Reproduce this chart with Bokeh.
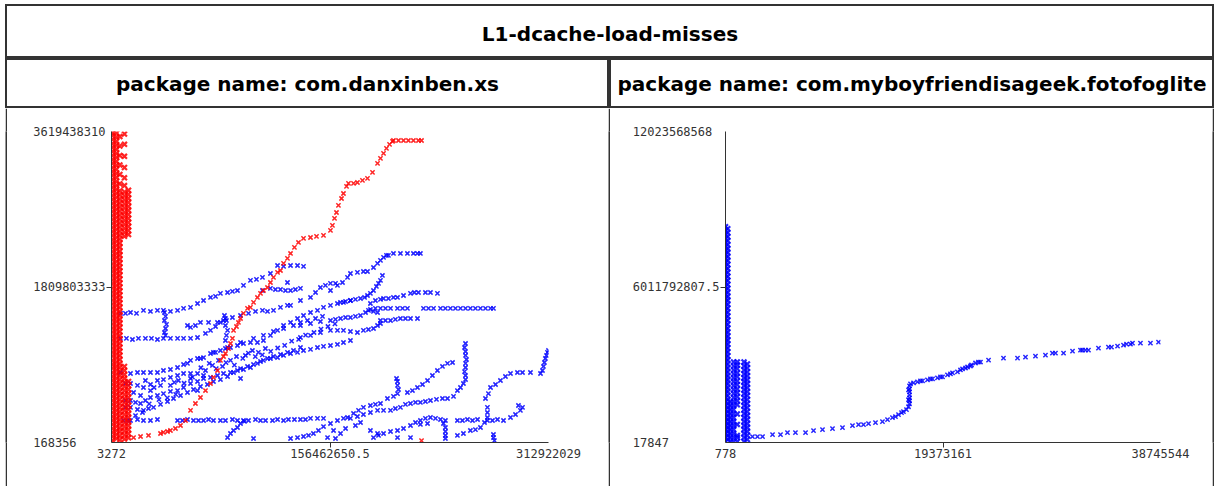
from bokeh.plotting import figure
from bokeh.layouts import row, column, Spacer
from bokeh.models import Range1d, FixedTicker, Label, ColumnDataSource
from bokeh.embed import file_html
from bokeh.resources import INLINE

TITLE = "L1-dcache-load-misses"
PKG_LEFT = "package name: com.danxinben.xs"
PKG_RIGHT = "package name: com.myboyfriendisageek.fotofoglite"

# ---------------- axis extents / ticks ----------------
left_x_ticks = [3272, 156462650.5, 312922029]
left_x_labels = ["3272", "156462650.5", "312922029"]
left_y_ticks = [168356, 1809803333, 3619438310]
left_y_labels = ["168356", "1809803333", "3619438310"]

right_x_ticks = [778, 19373161, 38745544]
right_x_labels = ["778", "19373161", "38745544"]
right_y_ticks = [17847, 6011792807.5, 12023568568]
right_y_labels = ["17847", "6011792807.5", "12023568568"]

# ---------------- left panel data (values in millions) ----------------
left_red_col_x = [0.7, 3.6, 6.0, 9.3, 12.2]
left_red_col_y = [
    [24, 71, 118, 164, 212, 258, 304, 352, 398, 446, 492, 538, 586, 632, 679, 726, 772, 818, 866, 912,
     958, 1006, 1052, 1099, 1146, 1192, 1238, 1286, 1332, 1379, 1426, 1472, 1518, 1566, 1612, 1659,
     1706, 1752, 1798, 1846, 1892, 1939, 1986, 2032, 2078, 2126, 2172, 2219, 2266, 2312, 2358, 2406,
     2452, 2499, 2546, 2592, 2638, 2686, 2732, 2779, 2826, 2872, 2918, 2966, 3012, 3059, 3106, 3152,
     3198, 3246, 3292, 3339, 3386, 3432, 3478, 3526, 3572, 3604],
    [47, 94, 141, 188, 235, 281, 328, 375, 422, 469, 515, 562, 609, 656, 702, 749, 796, 843, 889, 936,
     983, 1030, 1076, 1123, 1170, 1217, 1263, 1310, 1357, 1404, 1450, 1497, 1544, 1591, 1637, 1684,
     1731, 1778, 1824, 1871, 1918, 1965, 2011, 2058, 2105, 2152, 2198, 2245, 2292, 2339, 2385, 2432,
     2479, 2526, 2572, 2619, 2666, 2713, 2759, 2806, 2853, 2900, 2946, 2993, 3040, 3087, 3133, 3180,
     3227, 3274, 3320, 3367, 3414, 3461, 3507, 3554, 3601],
    [30, 77, 124, 170, 217, 264, 311, 357, 404, 451, 498, 544, 591, 638, 685, 731, 778, 825, 872, 918,
     965, 1012, 1059, 1105, 1152, 1199, 1246, 1292, 1339, 1386, 1433, 1479, 1526, 1573, 1620, 1666,
     1713, 1760, 1807, 1853, 1900, 1947, 1994, 2040, 2087, 2134, 2181, 2227, 2274, 2321, 2368, 2414,
     2461, 2508, 2555, 2601, 2648, 2695, 2742, 2788, 2835, 2882, 2929, 3010, 3120, 3230, 3340, 3450,
     3560],
    [40, 88, 135, 182, 229, 276, 322, 369, 416, 463, 510, 556, 603, 650, 697, 744, 790, 837, 884,
     2400, 2447, 2494, 2541, 2588, 2634, 2681, 2728, 2775, 2822, 2868, 2915, 2990, 3080, 3200, 3330,
     3470, 3590],
    [55, 102, 149, 196, 243, 290, 336, 383, 430, 477, 524, 571, 617, 664, 711,
     2420, 2467, 2514, 2561, 2607, 2654, 2701, 2748, 2795, 2842, 2889, 2936],
]

left_red_diag = [
    (15.8, 58), (20.8, 70), (26.5, 82), (35.1, 105), (37.2, 117), (40.1, 128), (42.2, 140), (45.8, 163),
    (49.4, 198), (53.0, 256), (56.6, 373), (60.1, 454), (63.7, 524), (67.3, 605), (70.9, 687),
    (73.0, 757), (75.9, 838), (78.0, 955), (80.2, 1001), (81.6, 1036), (83.8, 1094), (85.2, 1152),
    (86.6, 1211), (87.4, 1304), (89.5, 1350), (90.9, 1397), (92.4, 1443), (94.5, 1502), (97.4, 1560),
    (99.5, 1572), (101.7, 1630), (104.5, 1688), (106.7, 1735), (108.8, 1769), (111.7, 1804),
    (113.8, 1862), (116.0, 1921), (118.9, 1979), (121.0, 2002), (123.2, 2084), (126.0, 2142),
    (128.2, 2200), (131.0, 2270), (133.9, 2328), (137.5, 2375), (142.5, 2386), (146.8, 2398),
    (151.8, 2410), (156.8, 2468), (158.2, 2526), (159.7, 2608), (161.1, 2677), (162.5, 2759),
    (164.7, 2840), (166.1, 2898), (168.3, 2980), (169.7, 3015), (173.3, 3015), (176.1, 3026),
    (179.7, 3050), (183.3, 3073), (186.9, 3143), (190.5, 3248), (192.6, 3306), (194.8, 3364),
    (196.9, 3422), (199.1, 3469), (201.2, 3504), (201.9, 3515), (205.5, 3515), (209.1, 3515),
    (212.6, 3515), (216.2, 3515), (219.8, 3515), (222.0, 3515), (222.0, 23),
]

left_blue_top = [
    (6.4, 1502), (10.0, 1502), (13.6, 1513), (17.9, 1502), (22.9, 1537), (27.9, 1525), (32.9, 1537),
    (37.2, 1537), (42.2, 1525), (47.3, 1537), (51.6, 1560), (56.6, 1572), (61.6, 1618), (65.9, 1653),
    (70.9, 1688), (74.5, 1700), (78.0, 1735), (83.1, 1746), (86.6, 1758), (90.2, 1769), (94.5, 1828),
    (99.5, 1886), (103.8, 1898), (108.1, 1921), (113.8, 1967), (118.9, 2060), (123.2, 2049),
    (128.2, 2060), (133.2, 2060), (137.5, 2049),
    (156.8, 1769), (161.8, 1828), (165.4, 1862), (169.0, 1921), (171.1, 1967), (176.1, 1979),
    (180.4, 1990), (183.3, 1990), (187.6, 2037), (190.5, 2084), (192.6, 2119), (194.8, 2154),
    (196.9, 2177), (198.3, 2177), (201.9, 2200), (206.9, 2200), (211.9, 2200), (216.2, 2200),
    (219.1, 2200), (221.2, 2200),
    (128.2, 1595), (135.3, 1653), (142.5, 1688), (146.1, 1746), (149.6, 1804), (153.2, 1828),
    (156.8, 1851), (160.4, 1851),
    (108.1, 1769), (113.8, 1793), (117.4, 1781), (121.0, 1781), (124.6, 1769), (128.2, 1769),
    (131.7, 1781), (135.3, 1793), (126.0, 1862),
]

left_blue_mid = [
    (6.4, 1211), (10.7, 1211), (15.0, 1199), (19.3, 1211), (24.3, 1211), (28.6, 1211), (32.9, 1199),
    (37.2, 1211), (42.2, 1211), (47.3, 1211), (51.6, 1211), (56.6, 1211), (61.6, 1222),
    (67.3, 1269), (70.9, 1304), (74.5, 1350), (78.0, 1397), (81.6, 1443), (86.6, 1455), (92.4, 1478),
    (98.1, 1502), (103.1, 1525), (108.1, 1537), (111.7, 1525), (116.0, 1537), (121.0, 1572),
    (126.0, 1595),
    (37.9, 1513), (38.7, 1467), (37.9, 1420), (39.4, 1374), (38.7, 1327), (37.9, 1280), (38.7, 1246),
    (54.4, 1362), (56.6, 1339), (60.1, 1362), (63.7, 1397), (69.5, 1397), (75.9, 1397), (80.2, 1420),
    (80.9, 1478), (82.3, 1420), (81.6, 1362), (83.1, 1304), (82.3, 1246), (81.6, 1187),
    (54.4, 920), (63.7, 978), (73.0, 1048), (83.1, 1106), (92.4, 1164), (101.7, 1211), (108.8, 1246),
    (116.0, 1292), (123.2, 1327), (130.3, 1362), (135.3, 1397), (140.3, 1420), (146.1, 1443),
    (151.1, 1467),
]

left_blue_bundle = [
    (6.4, 815), (13.6, 803), (18.6, 815), (22.9, 815), (27.9, 815), (32.9, 815), (37.2, 838),
    (42.2, 850), (47.3, 873), (51.6, 908), (56.6, 955), (61.6, 978), (65.9, 989), (70.9, 1036),
    (74.5, 1048), (78.0, 1071), (81.6, 1094), (85.2, 1106), (90.2, 1129), (94.5, 1152), (99.5, 1164),
    (104.5, 1164), (108.8, 1187), (113.8, 1246), (118.9, 1304), (123.2, 1362), (128.2, 1397),
    (133.2, 1443), (137.5, 1478), (142.5, 1513), (147.5, 1537), (151.8, 1572), (156.8, 1595),
    (161.8, 1618), (166.1, 1630), (171.1, 1653),
    (10.0, 687), (13.6, 687), (18.6, 664), (22.9, 640), (27.9, 675), (32.9, 722), (37.2, 733),
    (42.2, 757), (47.3, 780), (51.6, 803), (56.6, 803), (61.6, 803), (65.9, 780), (70.9, 757),
    (75.9, 780), (80.2, 803), (85.2, 815), (90.2, 838), (94.5, 850), (99.5, 873), (104.5, 920),
    (108.8, 955), (113.8, 978), (118.9, 989), (123.2, 1013), (128.2, 1036), (133.2, 1048),
    (137.5, 1071), (142.5, 1083), (147.5, 1106), (151.8, 1118), (156.8, 1129), (161.8, 1141),
    (166.1, 1164), (171.1, 1187),
    (10.0, 489), (13.6, 489), (17.2, 466), (20.8, 454), (24.3, 489), (27.9, 524), (32.9, 547),
    (37.2, 570), (42.2, 594), (47.3, 605), (51.6, 640), (56.6, 687), (61.6, 710), (65.9, 745),
    (10.0, 408), (13.6, 408), (18.6, 384), (22.9, 373), (26.5, 396), (30.1, 408), (35.1, 443),
    (40.1, 477), (44.4, 512), (49.4, 547), (54.4, 582), (58.7, 617), (63.7, 652), (68.7, 675),
    (73.0, 710), (78.0, 733), (83.1, 768), (87.4, 815), (92.4, 861), (97.4, 885), (101.7, 908),
    (106.7, 943), (111.7, 978), (116.0, 1001), (121.0, 1024), (126.0, 1048), (130.3, 1071),
    (135.3, 1106),
    (56.6, 745), (61.6, 605), (67.3, 838), (72.3, 897), (76.6, 955), (79.5, 885), (85.2, 955),
    (89.5, 1001), (95.9, 1013), (100.9, 1071), (105.2, 1048), (110.2, 1094), (92.4, 745), (27.9, 605),
    (35.1, 664), (20.8, 547), (15.8, 582), (24.3, 722), (42.2, 664), (47.9, 722), (17.2, 314),
    (22.2, 349), (12.2, 256),
    (30.5, 640), (45.0, 700), (52.0, 690), (58.0, 760), (64.0, 870), (70.0, 920), (75.0, 860),
    (82.0, 930), (88.0, 900), (94.0, 980), (98.0, 1040), (103.0, 1000), (108.0, 1020), (114.0, 1060),
    (119.0, 1100), (124.0, 1130), (129.0, 1180), (134.0, 1200), (139.0, 1250), (145.0, 1280),
    (150.0, 1320), (155.0, 1350), (160.0, 1380), (40.0, 520), (46.0, 560), (34.0, 500), (27.0, 450),
]

left_blue_flat = [
    (8.6, 256), (13.6, 256), (18.6, 268), (22.9, 256), (27.9, 256), (32.9, 268), (47.3, 256),
    (50.8, 256), (54.4, 268), (58.7, 256), (62.3, 256), (65.9, 256), (69.5, 268), (73.0, 256),
    (78.0, 256), (81.6, 256), (86.6, 268), (90.2, 256), (94.5, 256), (98.1, 256), (103.1, 268),
    (106.7, 256), (110.3, 256), (115.3, 256), (118.9, 268), (123.2, 256), (126.7, 268), (131.0, 268),
    (135.3, 268), (138.9, 268), (142.5, 280), (147.5, 280), (151.8, 280),
    (83.1, 58), (85.2, 105), (87.4, 140), (90.2, 175), (92.4, 221), (95.2, 245), (101.7, 47),
]

left_blue_low_right = [
    (128.2, 47), (133.2, 58), (137.5, 70), (141.1, 82), (144.6, 105), (148.2, 140), (151.8, 186),
    (156.8, 221), (161.8, 256), (166.1, 280), (169.0, 291), (173.3, 338), (176.9, 373), (180.4, 408),
    (185.4, 431), (189.0, 443), (192.6, 454), (197.6, 512), (201.9, 536), (204.8, 570), (205.5, 617),
    (204.8, 664), (204.8, 710), (204.1, 745),
    (211.9, 582), (215.5, 605), (219.1, 640), (222.7, 675), (226.3, 722), (229.8, 780), (233.4, 838),
    (237.0, 885), (240.6, 920), (244.2, 931),
    (171.1, 280), (176.1, 303), (180.4, 326), (185.4, 349), (190.5, 373), (194.8, 373), (199.8, 373),
    (203.3, 396), (206.9, 408), (210.5, 443), (214.1, 454), (217.7, 466), (221.2, 466), (224.8, 477),
    (228.4, 489), (232.7, 501), (237.0, 512), (240.6, 512), (244.9, 536), (247.7, 605), (249.9, 640),
    (252.0, 687), (253.5, 733), (253.5, 780), (252.8, 826), (253.5, 873), (253.5, 920), (254.2, 966),
    (253.5, 1013), (253.5, 1059), (252.8, 1106), (253.5, 1152),
    (187.6, 58), (191.2, 82), (194.8, 105), (199.8, 128), (204.8, 140), (209.1, 163), (214.1, 198),
    (217.7, 233), (221.2, 256), (224.8, 280), (228.4, 291), (232.0, 280), (235.6, 268), (239.1, 256),
    (237.7, 221), (226.3, 221), (221.2, 210), (247.7, 256), (251.3, 256), (254.9, 268), (258.5, 256),
    (262.1, 268), (269.2, 256), (272.8, 256), (276.4, 268), (280.7, 256), (285.7, 291), (289.3, 326),
    (292.8, 373), (294.3, 408), (291.4, 431),
    (247.7, 82), (252.0, 105), (257.0, 140), (260.6, 151), (264.2, 175), (267.1, 233), (269.2, 291),
    (269.2, 349), (269.2, 408), (267.8, 512), (269.9, 570), (271.4, 640), (275.0, 675), (278.5, 722),
    (282.1, 768), (285.7, 803), (290.7, 815), (294.3, 815), (300.0, 815),
    (307.2, 803), (308.6, 838), (309.3, 885), (310.0, 931), (310.7, 978), (311.5, 1013),
    (312.2, 1048), (312.9, 1071),
    (273.5, 93), (273.5, 58), (274.2, 23), (239.1, 175), (239.1, 128), (239.1, 82), (239.1, 47),
    (214.1, 58), (204.8, 58), (159.0, 140), (164.0, 105), (167.6, 163), (174.7, 198), (154.7, 58),
    (160.4, 47), (178.3, 233), (185.4, 140), (190.5, 105),
]

left_blue_high_right = [
    (135.3, 1362), (142.5, 1385), (149.6, 1408), (156.8, 1420), (160.4, 1432), (164.0, 1443),
    (167.6, 1455), (171.1, 1455), (174.7, 1467), (178.3, 1478), (181.9, 1513), (184.0, 1537),
    (187.6, 1525), (190.5, 1513), (192.6, 1420), (196.2, 1420), (199.8, 1420), (203.3, 1432),
    (206.9, 1443), (210.5, 1443), (214.1, 1443), (219.1, 1443),
    (135.3, 1222), (142.5, 1246), (149.6, 1280), (156.8, 1304), (161.8, 1304), (166.1, 1304),
    (171.1, 1292), (176.1, 1280), (180.4, 1304), (184.0, 1315), (187.6, 1327), (190.5, 1362),
    (192.6, 1385),
    (185.4, 1618), (189.0, 1653), (192.6, 1665), (194.8, 1676), (198.3, 1676), (201.9, 1688),
    (204.8, 1688), (209.1, 1711), (214.1, 1735), (216.9, 1746), (219.8, 1746), (224.8, 1746),
    (228.4, 1746), (233.4, 1735),
    (185.4, 1548), (189.0, 1560), (192.6, 1560), (196.2, 1560), (199.8, 1560), (204.8, 1560),
    (208.4, 1560), (211.9, 1560), (223.4, 1560), (227.0, 1560), (230.6, 1560), (235.6, 1560),
    (239.1, 1560), (242.7, 1560), (246.3, 1560), (249.9, 1560), (253.5, 1560), (257.0, 1560),
    (260.6, 1560), (264.2, 1560), (267.8, 1560), (271.4, 1560), (273.5, 1560),
    (164.0, 1630), (167.6, 1641), (171.1, 1653), (174.7, 1665), (178.3, 1676), (181.2, 1688),
    (183.3, 1711), (185.4, 1735), (187.6, 1769), (189.7, 1816), (191.2, 1851), (192.6, 1886),
    (194.0, 1944),
]

# ---------------- right panel data (values in millions) ----------------
right_col_x = [0.001, 0.2, 0.45, 0.72, 1.05, 1.65, 1.95]
right_col_y = [
    [38, 190, 345, 498, 652, 806, 960, 1114, 1268, 1421, 1575, 1729, 1883, 2036, 2190, 2344, 2498,
     2651, 2805, 2959, 3113, 3266, 3420, 3574, 3728, 3881, 4035, 4189, 4343, 4496, 4650, 4804, 4958,
     5111, 5265, 5419, 5573, 5726, 5880, 6034, 6188, 6341, 6495, 6649, 6803, 6956, 7110, 7264, 7418,
     7571, 7725, 7879, 8033, 8186, 8340],
    [115, 268, 422, 575, 729, 883, 1037, 1190, 1344, 1498, 1652, 1805, 1959, 2113, 2267, 2420, 2574,
     2728, 2882, 3036, 3189, 3343, 3497, 3651, 3804, 3958, 4112, 4266, 4419, 4573, 4727, 4881, 5034,
     5188, 5342, 5496, 5649, 5803, 5957, 6111, 6265, 6418, 6572, 6726, 6880, 7033, 7187, 7341, 7495,
     7648, 7802, 7956, 8110, 8263],
    [40, 190, 340, 495, 650, 800, 955, 1110, 1265, 1420, 1575],
    [38, 190, 345, 498, 652, 806, 960, 1114, 1268, 1421, 1575, 1729, 1883, 2036, 2190, 2344, 2498,
     2651, 2805, 2959, 3111],
    [38, 192, 268, 700, 1100, 1460, 1610, 1770, 1920, 2070, 2230, 2380, 2540, 2690, 2850, 3000, 3111],
    [38, 190, 345, 498, 652, 806, 960, 1114, 1268, 1421, 1575, 1729, 1883, 2036, 2190, 2344, 2498,
     2651, 2805, 2959, 3111],
    [115, 268, 422, 575, 729, 883, 1037, 1190, 1344, 1498, 1652, 1805, 1959, 2113, 2267, 2420, 2574,
     2728, 2882, 3036],
]

right_curve = [
    (2.40, 230), (2.85, 230), (3.30, 230), (4.19, 307), (4.90, 307), (5.52, 384), (6.23, 384),
    (7.13, 384), (7.84, 461), (8.64, 499), (9.53, 538), (10.42, 576), (11.31, 653), (11.85, 691),
    (12.29, 691), (12.74, 730), (13.36, 768), (13.98, 807), (14.43, 884), (14.87, 960), (15.14, 999),
    (15.41, 1076), (15.68, 1152), (15.85, 1191), (16.12, 1268), (16.30, 1383),
    (16.39, 1498), (16.39, 1613), (16.39, 1729), (16.39, 1844), (16.39, 1959), (16.39, 2074),
    (16.39, 2190), (16.48, 2266), (16.30, 1652), (16.30, 2036),
    (16.75, 2305), (17.10, 2343), (17.37, 2382), (17.55, 2382), (17.99, 2420), (18.26, 2459),
    (18.44, 2459), (18.88, 2497), (19.15, 2535), (19.33, 2535), (19.77, 2612), (20.04, 2651),
    (20.22, 2689), (20.66, 2727), (20.93, 2804), (21.11, 2843), (21.38, 2881), (21.56, 2919),
    (21.82, 2958), (21.91, 2996), (22.27, 3073), (22.53, 3111), (22.71, 3111),
    (23.43, 3188), (24.76, 3265), (26.01, 3265), (26.72, 3304), (27.61, 3342), (28.50, 3380),
    (29.12, 3457), (29.39, 3457), (30.11, 3457), (30.91, 3534), (31.62, 3573), (31.80, 3573),
    (32.06, 3573), (32.33, 3573), (33.22, 3649), (34.11, 3688), (34.38, 3688), (34.92, 3726),
    (35.45, 3765), (35.72, 3803), (36.07, 3803), (36.25, 3841), (36.96, 3841), (37.85, 3841),
    (38.57, 3880),
]

M = 1e6
BLUE = "#0000ff"
RED = "#ff0000"
LINE = "#333333"
TICK_FONT = "DejaVu Sans Mono"


def pts_source(pairs):
    return ColumnDataSource(dict(x=[a * M for a, _ in pairs], y=[b * M for _, b in pairs]))


def cols_source(xs, ys):
    px, py = [], []
    for xv, col in zip(xs, ys):
        for yv in col:
            px.append(xv * M)
            py.append(yv * M)
    return ColumnDataSource(dict(x=px, y=py))


def pad(labels):
    n = max(len(s) for s in labels)
    return [s + "\u00a0" * (n - len(s)) for s in labels]


def cell(w, h, text, ypos):
    p = figure(width=w, height=h, x_range=Range1d(0, 1), y_range=Range1d(0, 1),
               output_backend="svg", toolbar_location=None, x_axis_type=None, y_axis_type=None,
               min_border=0)
    p.outline_line_color = LINE
    p.outline_line_width = 3
    p.background_fill_color = "white"
    p.border_fill_color = "white"
    p.add_layout(Label(x=0.5, y=ypos, text=text, text_align="center", text_baseline="middle",
                       text_font="DejaVu Sans", text_font_style="bold", text_font_size="20px",
                       text_color="#000000"))
    return p


def sep(h):
    p = figure(width=2, height=h, x_range=Range1d(0, 1), y_range=Range1d(0, 1),
               output_backend="svg", toolbar_location=None, x_axis_type=None, y_axis_type=None,
               min_border=0)
    p.background_fill_color = LINE
    p.border_fill_color = LINE
    p.outline_line_color = None
    return p


def panel(w, h, borders, xt, xl, yt, yl):
    bl, br, bt, bb = borders
    p = figure(width=w, height=h, x_range=Range1d(xt[0], xt[-1]), y_range=Range1d(yt[0], yt[-1]),
               output_backend="svg", toolbar_location=None,
               min_border_left=bl, min_border_right=br, min_border_top=bt, min_border_bottom=bb)
    p.grid.visible = False
    p.outline_line_color = None
    p.background_fill_color = "white"
    p.border_fill_color = "white"
    p.xaxis.ticker = FixedTicker(ticks=xt, minor_ticks=[xt[1]])
    p.yaxis.ticker = FixedTicker(ticks=yt, minor_ticks=[yt[1]])
    p.xaxis.major_label_overrides = {t: s for t, s in zip(xt, xl)}
    p.yaxis.major_label_overrides = {t: s for t, s in zip(yt, pad(yl))}
    for ax in (p.xaxis[0], p.yaxis[0]):
        ax.axis_line_color = LINE
        ax.axis_line_width = 1
        ax.major_tick_line_color = None
        ax.major_tick_in = 0
        ax.major_tick_out = 5
        ax.minor_tick_line_color = LINE
        ax.minor_tick_in = 0
        ax.minor_tick_out = 5
        ax.major_label_text_font = TICK_FONT
        ax.major_label_text_font_size = "12px"
        ax.major_label_text_color = "#333333"
    p.xaxis.major_label_standoff = 1
    p.yaxis.major_label_standoff = 1
    return p


def marks(p, src, color, lw=1.5, size=6):
    p.scatter("x", "y", source=src, marker="x", size=size, line_color=color, line_width=lw,
              line_alpha=0.85)


# ---------------- left panel ----------------
pl = panel(601, 378, (104, 60, 23, 44), left_x_ticks, left_x_labels, left_y_ticks, left_y_labels)
for trace in (left_blue_top, left_blue_mid, left_blue_bundle, left_blue_flat,
              left_blue_low_right, left_blue_high_right):
    marks(pl, pts_source(trace), BLUE)
marks(pl, pts_source(left_red_diag), RED)
marks(pl, cols_source(left_red_col_x, left_red_col_y), RED, lw=2.2, size=7)

# ---------------- right panel ----------------
pr = panel(602, 378, (115, 52, 22, 43), right_x_ticks, right_x_labels, right_y_ticks, right_y_labels)
marks(pr, cols_source(right_col_x, right_col_y), BLUE, lw=2.2, size=7)
marks(pr, pts_source(right_curve), BLUE)

# ---------------- table layout ----------------
title_cell = cell(1209, 54, TITLE, 0.46)
head_left = cell(604, 50, PKG_LEFT, 0.5)
head_right = cell(605, 50, PKG_RIGHT, 0.5)

page = row(
    Spacer(width=5, height=486),
    column(
        Spacer(width=1209, height=4),
        title_cell,
        row(head_left, head_right),
        row(sep(378), pl, sep(378), pr, sep(378)),
    ),
)

open("out.html", "w").write(file_html(page, INLINE))
